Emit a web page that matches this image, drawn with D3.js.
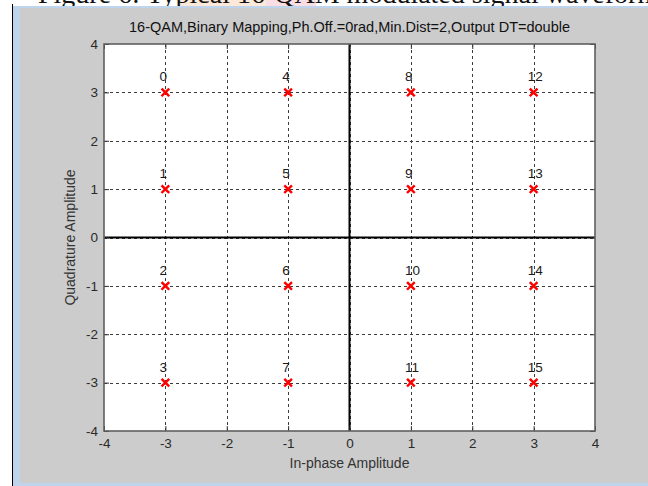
<!DOCTYPE html>
<html>
<head>
<meta charset="utf-8">
<script src="https://cdn.jsdelivr.net/npm/d3@7"></script>
<style>
  html, body { margin: 0; padding: 0; background: #ffffff; }
  svg { display: block; }
</style>
</head>
<body>
<svg id="fig" width="648" height="486"></svg>
<script>
// 16-QAM constellation: symbol index, in-phase and quadrature coordinates
const symbolLabels = ["0","1","2","3","4","5","6","7","8","9","10","11","12","13","14","15"];
const inPhase    = [-3, -3, -3, -3, -1, -1, -1, -1,  1,  1,  1,  1,  3,  3,  3,  3];
const quadrature = [ 3,  1, -1, -3,  3,  1, -1, -3,  3,  1, -1, -3,  3,  1, -1, -3];

const xTicks = [-4, -3, -2, -1, 0, 1, 2, 3, 4];
const yTicks = [-4, -3, -2, -1, 0, 1, 2, 3, 4];

const plotTitle = "16-QAM,Binary Mapping,Ph.Off.=0rad,Min.Dist=2,Output DT=double";
const xLabel = "In-phase Amplitude";
const yLabel = "Quadrature Amplitude";
const captionText = "Figure 6: Typical 16-QAM modulated signal waveform.";

const svg = d3.select("#fig");
const W = 648, H = 486;
const FONT = "'Liberation Sans', Arial, sans-serif";
const plain = d => String(d);   // ASCII hyphen for negatives

// page caption sitting above the figure window (clipped by the window)
const cap = svg.append("g");
cap.append("rect").attr("x", 178).attr("y", 0).attr("width", 88).attr("height", 8).attr("fill", "#fde3cf").attr("opacity", 0.8);
cap.append("rect").attr("x", 266).attr("y", 0).attr("width", 50).attr("height", 8).attr("fill", "#f9d6dc").attr("opacity", 0.8);
cap.append("text")
  .attr("x", 38).attr("y", 3)
  .attr("font-family", "'Liberation Serif', 'Times New Roman', serif")
  .attr("font-size", 28)
  .attr("fill", "#111")
  .text(captionText);

// figure window frame
svg.append("line").attr("x1", 12.5).attr("x2", 12.5).attr("y1", 4).attr("y2", H).attr("stroke", "#000").attr("stroke-width", 1);
svg.append("rect").attr("x", 13).attr("y", 6).attr("width", W - 13).attr("height", H - 6).attr("fill", "#bdd4ec");
svg.append("rect").attr("x", 20).attr("y", 8).attr("width", W - 20).attr("height", 475).attr("fill", "#cccccc");

// axes geometry
const x = d3.scaleLinear().domain([-4, 4]).range([104, 595]);
const y = d3.scaleLinear().domain([-4, 4]).range([431, 44]);

// white plotting area
svg.append("rect")
  .attr("x", x(-4)).attr("y", y(4))
  .attr("width", x(4) - x(-4)).attr("height", y(-4) - y(4))
  .attr("fill", "#ffffff");

// dashed grid
const grid = svg.append("g").attr("stroke", "#3c3c3c").attr("stroke-width", 1).attr("stroke-dasharray", "3,3");
grid.selectAll("line.gx").data(xTicks.slice(1, -1)).join("line")
  .attr("class", "gx")
  .attr("x1", d => Math.round(x(d)) + 0.5).attr("x2", d => Math.round(x(d)) + 0.5)
  .attr("y1", y(4)).attr("y2", y(-4));
grid.selectAll("line.gy").data(yTicks.slice(1, -1)).join("line")
  .attr("class", "gy")
  .attr("y1", d => Math.round(y(d)) + 0.5).attr("y2", d => Math.round(y(d)) + 0.5)
  .attr("x1", x(-4)).attr("x2", x(4));

// zero axes
svg.append("line").attr("x1", x(0)).attr("x2", x(0)).attr("y1", y(4)).attr("y2", y(-4)).attr("stroke", "#000").attr("stroke-width", 2);
svg.append("line").attr("x1", x(-4)).attr("x2", x(4)).attr("y1", y(0)).attr("y2", y(0)).attr("stroke", "#000").attr("stroke-width", 2);

// axes with inward ticks on all four sides
function styleAxis(g, showText) {
  g.select(".domain").remove();
  g.selectAll(".tick line").attr("stroke", "#333").attr("stroke-width", 1);
  g.selectAll(".tick text")
    .attr("font-family", FONT).attr("font-size", 13.5).attr("fill", "#2a2a2a")
    .style("display", showText ? null : "none");
}
svg.append("g").attr("transform", `translate(0,${y(-4)})`)
  .call(d3.axisBottom(x).tickValues(xTicks).tickFormat(plain).tickSize(-5).tickPadding(7))
  .call(g => styleAxis(g, true));
svg.append("g").attr("transform", `translate(0,${y(4)})`)
  .call(d3.axisTop(x).tickValues(xTicks).tickSize(-5))
  .call(g => styleAxis(g, false));
svg.append("g").attr("transform", `translate(${x(-4)},0)`)
  .call(d3.axisLeft(y).tickValues(yTicks).tickFormat(plain).tickSize(-5).tickPadding(6))
  .call(g => styleAxis(g, true));
svg.append("g").attr("transform", `translate(${x(4)},0)`)
  .call(d3.axisRight(y).tickValues(yTicks).tickSize(-5))
  .call(g => styleAxis(g, false));

// axes box
svg.append("rect")
  .attr("x", x(-4)).attr("y", y(4))
  .attr("width", x(4) - x(-4)).attr("height", y(-4) - y(4))
  .attr("fill", "none").attr("stroke", "#5f5f5f").attr("stroke-width", 1.6);

// constellation points
const pts = symbolLabels.map((s, i) => ({ label: s, i: inPhase[i], q: quadrature[i] }));
const m = 3;
const marks = svg.append("g").attr("stroke", "#ff0000").attr("stroke-width", 2.4).attr("stroke-linecap", "square");
marks.selectAll("path").data(pts).join("path")
  .attr("d", d => {
    const cx = x(d.i), cy = y(d.q);
    return `M${cx - m},${cy - m}L${cx + m},${cy + m}M${cx - m},${cy + m}L${cx + m},${cy - m}`;
  });

// symbol index labels
svg.append("g").selectAll("text").data(pts).join("text")
  .attr("x", d => x(d.i) - 6)
  .attr("y", d => y(d.q) - 11)
  .attr("font-family", FONT).attr("font-size", 13.5).attr("fill", "#1a1a1a")
  .text(d => d.label);

// title and axis labels
svg.append("text")
  .attr("x", x(0)).attr("y", 32)
  .attr("text-anchor", "middle")
  .attr("font-family", FONT).attr("font-size", 14.5).attr("fill", "#111")
  .text(plotTitle);
svg.append("text")
  .attr("x", x(0)).attr("y", 468)
  .attr("text-anchor", "middle")
  .attr("font-family", FONT).attr("font-size", 14).attr("fill", "#333")
  .text(xLabel);
svg.append("text")
  .attr("transform", `translate(75,${y(0)}) rotate(-90)`)
  .attr("text-anchor", "middle")
  .attr("font-family", FONT).attr("font-size", 14).attr("fill", "#333")
  .text(yLabel);
</script>
</body>
</html>
